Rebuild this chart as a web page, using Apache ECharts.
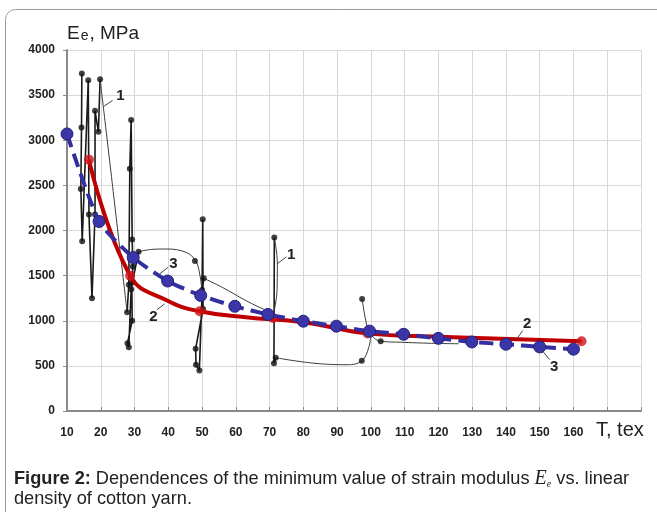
<!DOCTYPE html>
<html>
<head>
<meta charset="utf-8">
<title>Ee vs T</title>
<script src="https://cdn.jsdelivr.net/npm/echarts@6/dist/echarts.min.js"></script>
<style>
  html, body { margin: 0; padding: 0; background: #fff; }
  #chart { width: 657px; height: 512px; }
</style>
</head>
<body>
<div id="chart"></div>
<script>
// x ticks
var xTicks = [10, 20, 30, 40, 50, 60, 70, 80, 90, 100, 110, 120, 130, 140, 150, 160];

// curve 1 - measured values, thick straight parts
var blackJagged = [
  [[14.4, 3740], [14.3, 3141], [14.1, 2460], [14.5, 1880], [16.3, 3665], [16.5, 2177], [17.4, 1250], [18.3, 2177], [18.3, 3326], [19.3, 3094], [19.8, 3676]],
  [[27.8, 1094], [28.3, 1400], [28.6, 2685], [29, 3223], [29.3, 1900], [29.5, 1600], [29.2, 1420], [29.3, 1000], [27.9, 750], [28.3, 707], [29, 1350], [31.2, 1765]],
  [[50, 1320], [50.2, 2126], [50.3, 1130], [48.1, 690], [48.2, 513], [49.2, 450], [50, 1300], [50.5, 1470]],
  [[71.4, 1923], [71.3, 530], [71.8, 590]]
];
// curve 1 - thin connecting curves
var blackThin = [
  [[19.8, 3676], [24, 2330], [27.8, 1094]],
  [[31.2, 1765], [35, 1790], [39.4, 1795], [45.3, 1757], [48.1, 1663], [49.3, 1518], [50, 1320]],
  [[50.5, 1470], [56, 1370], [63, 1223], [69, 1113], [71.3, 1075]],
  [[71.4, 1923], [72.3, 1628], [72.2, 1334], [71.3, 1100]],
  [[71.8, 590], [83, 530], [93, 513], [97.3, 557], [99.4, 707], [100, 855]],
  [[97.4, 1242], [98.5, 1000], [99.6, 870], [102.9, 773], [108.8, 762], [118, 750], [126, 745]]
];
// curve 1 - dots
var blackDots = [
  [14.4, 3740], [14.3, 3141], [14.1, 2460], [14.5, 1880], [16.3, 3665], [16.5, 2177], [17.4, 1250], [18.3, 2177], [18.3, 3326], [19.3, 3094], [19.8, 3676],
  [27.8, 1094], [28.3, 1400], [28.6, 2685], [29, 3223], [29.3, 1900], [29.5, 1600], [29.2, 1420], [29.3, 1000], [27.9, 750], [28.3, 707], [29, 1350], [31.2, 1765],
  [47.9, 1663], [50.2, 2126], [50.5, 1470], [50, 1340], [50.3, 1130], [48.1, 690], [48.2, 513], [49.2, 450],
  [71.4, 1923], [71.3, 530], [71.8, 590],
  [97.4, 1242], [97.3, 557], [102.9, 773]
];

// curve 2 (red)
var redCurve = [[16.5, 2785], [28.7, 1500], [39.5, 1227], [49.3, 1105], [63, 1040], [80, 983], [99, 860], [120, 823], [162.4, 773]];
var redDots = [[16.5, 2785], [28.7, 1500], [49.3, 1105], [71, 1030], [99, 860], [162.4, 773]];

// curve 3 (blue dashed)
var blueT = [10, 19.5, 29.6, 39.8, 49.6, 59.7, 69.5, 80, 89.8, 99.6, 109.7, 120, 129.9, 140, 150, 160];
var blueE = [3070, 2100, 1700, 1440, 1280, 1160, 1070, 995, 940, 885, 850, 805, 765, 740, 710, 685];

// curve numbers: text, text position, leader start, leader end
var notes = [
  {t: '1', at: [25.8, 3488], from: [21, 3378], to: [23.5, 3441]},
  {t: '1', at: [76.4, 1729], from: [72.2, 1629], to: [75, 1709]},
  {t: '3', at: [41.5, 1635], from: [37.4, 1518], to: [39.9, 1591]},
  {t: '2', at: [35.6, 1039], from: [36.6, 1120], to: [38.9, 1187]},
  {t: '2', at: [146.3, 966], from: [143, 789], to: [145, 892]},
  {t: '3', at: [154.3, 494], from: [150.5, 679], to: [153, 568]}
];

var FONT = '"Liberation Sans", Arial, sans-serif';
var SERIF = '"Liberation Serif", "Times New Roman", serif';
var chart = echarts.init(document.getElementById('chart'));

var series = [];
blackJagged.forEach(function (seg) {
  series.push({type: 'line', data: seg, symbol: 'none', silent: true, z: 2,
    lineStyle: {color: '#1a1a1a', width: 1.6}});
});
blackThin.forEach(function (seg) {
  series.push({type: 'line', data: seg, symbol: 'none', silent: true, smooth: 0.4, z: 2,
    lineStyle: {color: '#3a3a3a', width: 1}});
});
series.push({type: 'scatter', data: blackDots, symbolSize: 6, z: 3, itemStyle: {color: '#111'}});
series.push({type: 'line', data: redCurve, symbol: 'none', smooth: 0.45, z: 4,
  lineStyle: {color: '#c00000', width: 4}});
series.push({type: 'scatter', data: redDots, symbolSize: 10, z: 5, itemStyle: {color: '#cc1418'}});
series.push({type: 'line', data: blueT.map(function (t, i) { return [t, blueE[i]]; }),
  symbol: 'circle', symbolSize: 12, smooth: 0.2, z: 6,
  itemStyle: {color: '#3a35a8', borderColor: '#24207a', borderWidth: 1},
  lineStyle: {color: '#332fa0', width: 4, type: [14, 7]}});

chart.setOption({
  animation: false,
  grid: {left: 67, right: 16, top: 50, bottom: 101},
  xAxis: {
    type: 'value', min: 10, max: 180, interval: 10,
    axisLine: {lineStyle: {color: '#8a8a8a', width: 2}},
    axisTick: {inside: true, length: 4, lineStyle: {color: '#8a8a8a'}},
    axisLabel: {
      margin: 16, color: '#222', fontFamily: FONT, fontWeight: 'bold', fontSize: 12,
      formatter: function (v) { return xTicks.indexOf(v) >= 0 ? String(v) : ''; }
    },
    splitLine: {show: true, lineStyle: {color: '#d8d8d8'}}
  },
  yAxis: {
    type: 'value', min: 0, max: 4000, interval: 500,
    axisLine: {show: true, lineStyle: {color: '#8a8a8a', width: 2}},
    axisTick: {show: true, length: 4, lineStyle: {color: '#8a8a8a'}},
    axisLabel: {margin: 12, color: '#222', fontFamily: FONT, fontWeight: 'bold', fontSize: 12,
      formatter: function (v) { return String(v); }},
    splitLine: {show: true, lineStyle: {color: '#d8d8d8'}}
  },
  series: series
});

var graphics = [
  {type: 'rect', silent: true, z: 0,
    shape: {x: 5.5, y: 9.5, width: 720, height: 600, r: 10},
    style: {fill: 'none', stroke: '#9a9a9a', lineWidth: 1}},
  {type: 'text', left: 67, top: 24, z: 10,
    style: {text: 'E{s|e}, MPa', fontFamily: FONT, fontSize: 19, fill: '#222',
      rich: {s: {fontFamily: FONT, fontSize: 14, fill: '#222', verticalAlign: 'bottom', padding: [4, 1, 0, 1]}}}},
  {type: 'text', left: 596, top: 420, z: 10,
    style: {text: 'T, tex', fontFamily: FONT, fontSize: 20, fill: '#222'}},
  {type: 'text', left: 14, top: 469, z: 10,
    style: {
      text: '{b|Figure 2:} Dependences of the minimum value of strain modulus {i|E}{s|e} vs. linear\ndensity of cotton yarn.',
      fontFamily: FONT, fontSize: 18.2, fill: '#222', lineHeight: 20,
      rich: {
        b: {fontFamily: FONT, fontSize: 18.2, fontWeight: 'bold', fill: '#222'},
        i: {fontFamily: SERIF, fontStyle: 'italic', fontSize: 20, fill: '#222'},
        s: {fontFamily: SERIF, fontStyle: 'italic', fontSize: 10, fill: '#222', verticalAlign: 'bottom'}
      }
    }}
];

notes.forEach(function (n) {
  var p = chart.convertToPixel({gridIndex: 0}, n.at);
  var a = chart.convertToPixel({gridIndex: 0}, n.from);
  var b = chart.convertToPixel({gridIndex: 0}, n.to);
  graphics.push({type: 'line', silent: true, z: 10,
    shape: {x1: a[0], y1: a[1], x2: b[0], y2: b[1]},
    style: {stroke: '#444', lineWidth: 1}});
  graphics.push({type: 'text', silent: true, z: 10, x: p[0], y: p[1],
    style: {text: n.t, fontFamily: FONT, fontWeight: 'bold', fontSize: 15, fill: '#222',
      align: 'center', verticalAlign: 'middle'}});
});

chart.setOption({graphic: graphics});
</script>
</body>
</html>
